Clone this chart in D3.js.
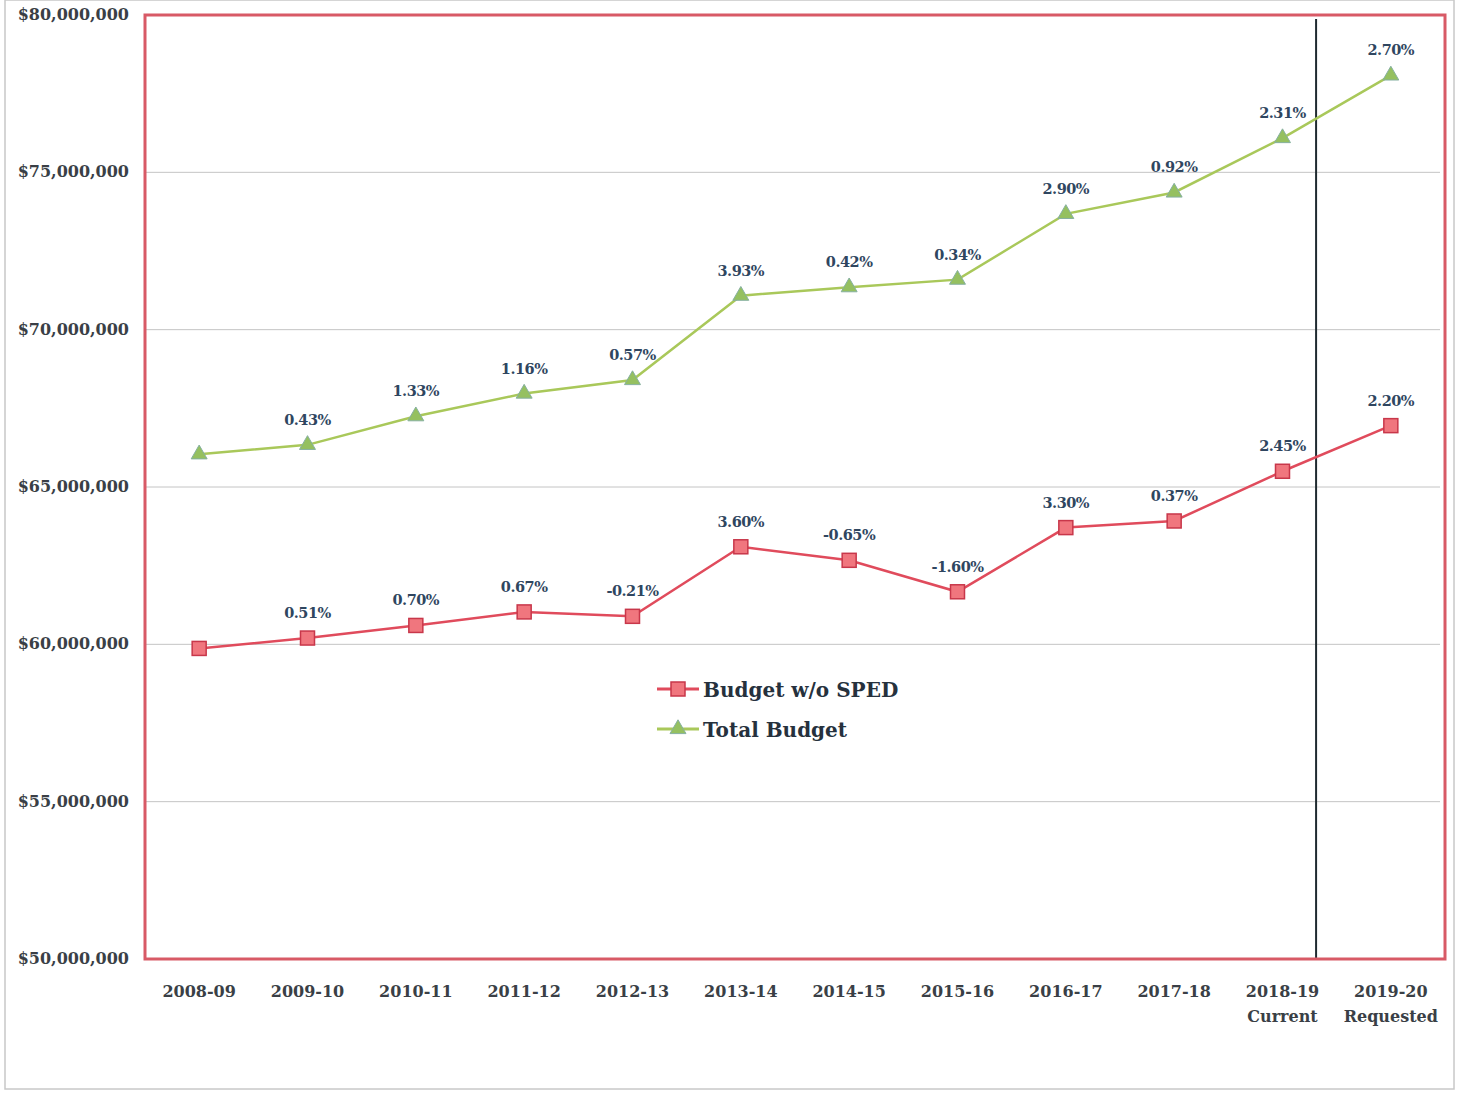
<!DOCTYPE html>
<meta charset="utf-8">
<head>
  <title>Budget chart</title>
</head>
<style>
    body {
        margin: 0;
        background-color: #ffffff;
    }
    svg text {
        font-family: "DejaVu Serif", "Liberation Serif", serif;
    }
    .tick-y {
        font-size: 16px;
        font-weight: bold;
        fill: #3a3f46;
    }
    .tick-x {
        font-size: 16px;
        font-weight: bold;
        fill: #3a3f46;
    }
    .pct {
        font-size: 14.5px;
        font-weight: bold;
        fill: #2f4660;
        letter-spacing: -0.5px;
    }
    .legend text {
        font-size: 20px;
        font-weight: bold;
        fill: #26313d;
    }
    .grid line {
        stroke: #c4c4c4;
        stroke-width: 1px;
    }
</style>
<body>
<svg id="chart" width="1459" height="1095"></svg>
<script src="https://cdn.jsdelivr.net/npm/d3@7"></script>
<script>
    // categories and series (values in dollars)
    var years = ["2008-09","2009-10","2010-11","2011-12","2012-13","2013-14",
                 "2014-15","2015-16","2016-17","2017-18","2018-19","2019-20"];
    var subLabels = ["","","","","","","","","","","Current","Requested"];

    var totalBudget = [66040000, 66340000, 67250000, 67970000, 68400000, 71080000,
                       71350000, 71590000, 73680000, 74360000, 76090000, 78080000];
    var totalPct = ["", "0.43%", "1.33%", "1.16%", "0.57%", "3.93%",
                    "0.42%", "0.34%", "2.90%", "0.92%", "2.31%", "2.70%"];

    var noSped = [59870000, 60200000, 60600000, 61030000, 60890000, 63100000,
                  62670000, 61670000, 63710000, 63920000, 65500000, 66950000];
    var noSpedPct = ["", "0.51%", "0.70%", "0.67%", "-0.21%", "3.60%",
                     "-0.65%", "-1.60%", "3.30%", "0.37%", "2.45%", "2.20%"];

    var yTicks = [50000000, 55000000, 60000000, 65000000, 70000000, 75000000, 80000000];

    var plotL = 145, plotR = 1445, plotT = 15, plotB = 959;

    var svg = d3.select("#chart");

    // faint scan frame
    svg.append("rect")
        .attr("x", 5).attr("y", 0)
        .attr("width", 1449).attr("height", 1089)
        .attr("fill", "none")
        .attr("stroke", "#c8c8c8")
        .attr("stroke-width", 1.5);

    var x = d3.scalePoint()
        .domain(years)
        .range([plotL, plotR])
        .padding(0.5);

    var y = d3.scaleLinear()
        .domain([50000000, 80000000])
        .range([plotB, plotT]);

    var fmt = function(d) { return "$" + d3.format(",")(d); };

    // gridlines
    svg.append("g")
        .attr("class", "grid")
        .selectAll("line")
        .data(yTicks.slice(1, -1))
        .enter()
        .append("line")
        .attr("x1", plotL).attr("x2", plotR - 5)
        .attr("y1", function(d) { return y(d); })
        .attr("y2", function(d) { return y(d); });

    // y labels
    svg.append("g")
        .selectAll("text")
        .data(yTicks)
        .enter()
        .append("text")
        .attr("class", "tick-y")
        .attr("x", 129)
        .attr("y", function(d) { return y(d) + 5; })
        .attr("text-anchor", "end")
        .text(fmt);

    // x labels
    var xl = svg.append("g");
    xl.selectAll("text.main")
        .data(years)
        .enter()
        .append("text")
        .attr("class", "tick-x main")
        .attr("x", function(d) { return x(d); })
        .attr("y", 997)
        .attr("text-anchor", "middle")
        .text(function(d) { return d; });
    xl.selectAll("text.sub")
        .data(years)
        .enter()
        .append("text")
        .attr("class", "tick-x sub")
        .attr("x", function(d) { return x(d); })
        .attr("y", 1022)
        .attr("text-anchor", "middle")
        .text(function(d, i) { return subLabels[i]; });

    // divider between current and requested
    var divX = x("2018-19") + x.step() * 0.31;
    svg.append("line")
        .attr("x1", divX).attr("x2", divX)
        .attr("y1", plotT + 4).attr("y2", plotB)
        .attr("stroke", "#1f2a30")
        .attr("stroke-width", 2);

    var line = d3.line()
        .x(function(d, i) { return x(years[i]); })
        .y(function(d) { return y(d); });

    // total budget
    svg.append("path")
        .datum(totalBudget)
        .attr("d", line)
        .attr("fill", "none")
        .attr("stroke", "#a9c85a")
        .attr("stroke-width", 2.5);

    var tri = d3.symbol().type(d3.symbolTriangle).size(110);
    svg.append("g")
        .selectAll("path")
        .data(totalBudget)
        .enter()
        .append("path")
        .attr("d", tri)
        .attr("transform", function(d, i) { return "translate(" + x(years[i]) + "," + y(d) + ")"; })
        .attr("fill", "#95c060")
        .attr("stroke", "#86b0a0")
        .attr("stroke-width", 1);

    svg.append("g")
        .selectAll("text")
        .data(totalBudget)
        .enter()
        .append("text")
        .attr("class", "pct")
        .attr("x", function(d, i) { return x(years[i]); })
        .attr("y", function(d) { return y(d) - 20; })
        .attr("text-anchor", "middle")
        .text(function(d, i) { return totalPct[i]; });

    // budget w/o sped
    svg.append("path")
        .datum(noSped)
        .attr("d", line)
        .attr("fill", "none")
        .attr("stroke", "#e04b5c")
        .attr("stroke-width", 2.5);

    svg.append("g")
        .selectAll("rect")
        .data(noSped)
        .enter()
        .append("rect")
        .attr("x", function(d, i) { return x(years[i]) - 7; })
        .attr("y", function(d) { return y(d) - 7; })
        .attr("width", 14).attr("height", 14)
        .attr("fill", "#f0767e")
        .attr("stroke", "#c8374a")
        .attr("stroke-width", 1.5);

    svg.append("g")
        .selectAll("text")
        .data(noSped)
        .enter()
        .append("text")
        .attr("class", "pct")
        .attr("x", function(d, i) { return x(years[i]); })
        .attr("y", function(d) { return y(d) - 20; })
        .attr("text-anchor", "middle")
        .text(function(d, i) { return noSpedPct[i]; });

    // plot border
    svg.append("rect")
        .attr("x", plotL).attr("y", plotT)
        .attr("width", plotR - plotL).attr("height", plotB - plotT)
        .attr("fill", "none")
        .attr("stroke", "#d85a66")
        .attr("stroke-width", 3);

    // legend
    var legend = svg.append("g").attr("class", "legend");
    var lx = 657, ly = [689, 729];
    legend.append("line")
        .attr("x1", lx).attr("x2", lx + 42)
        .attr("y1", ly[0]).attr("y2", ly[0])
        .attr("stroke", "#e04b5c").attr("stroke-width", 3);
    legend.append("rect")
        .attr("x", lx + 14).attr("y", ly[0] - 7)
        .attr("width", 14).attr("height", 14)
        .attr("fill", "#f0767e")
        .attr("stroke", "#c8374a")
        .attr("stroke-width", 1.5);
    legend.append("text")
        .attr("x", lx + 46).attr("y", ly[0] + 8)
        .text("Budget w/o SPED");

    legend.append("line")
        .attr("x1", lx).attr("x2", lx + 42)
        .attr("y1", ly[1]).attr("y2", ly[1])
        .attr("stroke", "#a9c85a").attr("stroke-width", 3);
    legend.append("path")
        .attr("d", tri)
        .attr("transform", "translate(" + (lx + 21) + "," + ly[1] + ")")
        .attr("fill", "#95c060")
        .attr("stroke", "#86b0a0");
    legend.append("text")
        .attr("x", lx + 46).attr("y", ly[1] + 8)
        .text("Total Budget");
</script>
</body>
